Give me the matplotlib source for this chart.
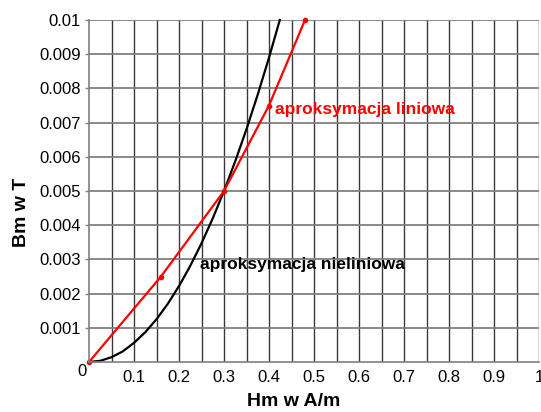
import matplotlib.pyplot as plt
import numpy as np

plt.rcParams['font.family'] = ['Liberation Sans', 'DejaVu Sans']

# linear approximation (red)
h_lin = [0.0, 0.16, 0.30, 0.40, 0.48]
b_lin = [0.0, 0.0025, 0.0050, 0.0075, 0.0100]

# non-linear approximation (black)
h_nl = [0.0, 0.025, 0.05, 0.075, 0.10, 0.125, 0.15, 0.175, 0.20, 0.225,
        0.25, 0.275, 0.30, 0.325, 0.35, 0.375, 0.40, 0.424]
b_nl = [0.0, 0.000035, 0.00014, 0.00031, 0.00056, 0.00087, 0.00125, 0.00170,
        0.00222, 0.00281, 0.00347, 0.00420, 0.00500, 0.00587, 0.00681,
        0.00782, 0.00890, 0.01000]

x_ticks = [0.1, 0.2, 0.3, 0.4, 0.5, 0.6, 0.7, 0.8, 0.9, 1.0]
x_labels = ['0.1', '0.2', '0.3', '0.4', '0.5', '0.6', '0.7', '0.8', '0.9', '1']
y_ticks = [0.001, 0.002, 0.003, 0.004, 0.005, 0.006, 0.007, 0.008, 0.009, 0.01]
y_labels = ['0.001', '0.002', '0.003', '0.004', '0.005', '0.006', '0.007',
            '0.008', '0.009', '0.01']

fig = plt.figure(figsize=(5.41, 4.12), dpi=100)
ax = fig.add_axes([89 / 541, 50 / 412, 450 / 541, 342 / 412])
ax.set_xlim(0, 1)
ax.set_ylim(0, 0.01)

ax.set_xticks(x_ticks)
ax.set_xticklabels(x_labels)
ax.set_xticks(np.arange(0.05, 1.0, 0.1), minor=True)
ax.set_yticks(y_ticks)
ax.set_yticklabels(y_labels)

ax.grid(axis='x', which='both', color='#3a3a3a', lw=1.0)
ax.grid(axis='y', which='major', color='#808080', lw=1.3)
ax.set_axisbelow(True)

ax.tick_params(axis='x', which='both', length=0, pad=6, labelsize=12)
ax.tick_params(axis='y', length=3, width=1, color='#808080', pad=3, labelsize=12)

for s in ['top', 'right']:
    ax.spines[s].set_visible(False)
for s in ['left', 'bottom']:
    ax.spines[s].set_color('#808080')
    ax.spines[s].set_linewidth(1.2)

ax.plot(h_nl, b_nl, color='black', lw=1.6, clip_on=False)
ax.plot(h_lin, b_lin, color='red', lw=1.6, marker='o', ms=3, clip_on=False)

ax.text(0.413, 0.00737, 'aproksymacja liniowa', color='red', fontsize=12.5,
        fontweight='bold', ha='left', va='center')
ax.text(0.247, 0.00284, 'aproksymacja nieliniowa', color='black', fontsize=12.5,
        fontweight='bold', ha='left', va='center')

ax.annotate('0', xy=(0, 0), xytext=(-5, -6.5), textcoords='offset points',
            ha='center', va='center', fontsize=12)

# small arrow head on top of the y axis
ax.plot([0], [1.015], marker='^', color='black', ms=4,
        transform=ax.get_yaxis_transform(), clip_on=False)

fig.text(294 / 541, 1 - 402 / 412, 'Hm w A/m', fontsize=14, fontweight='bold',
         ha='center', va='center')
fig.text(22 / 541, 1 - 212 / 412, 'Bm w T', fontsize=14, fontweight='bold',
         ha='center', va='center', rotation=90)

fig.savefig('out.png', dpi=100)
